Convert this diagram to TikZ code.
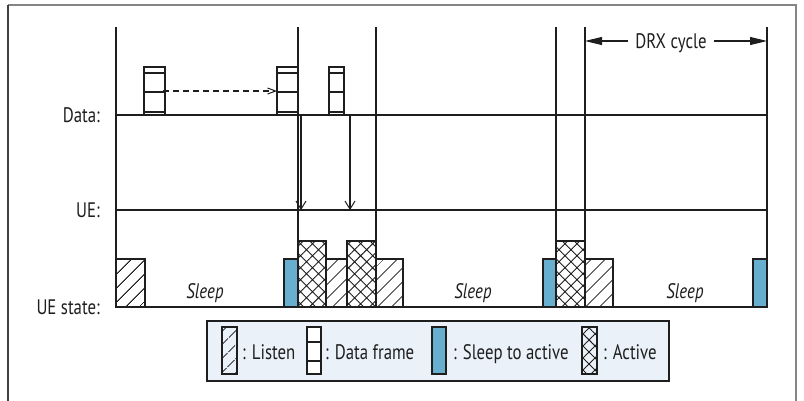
\documentclass[tikz,border=0pt]{standalone}
\usepackage{fontspec}
\setmainfont{PT Sans}[FakeStretch=0.8]
\usetikzlibrary{arrows.meta,patterns.meta}

\definecolor{ink}{HTML}{1E1E1E}
\definecolor{wake}{HTML}{68AECE}
\definecolor{legendbg}{HTML}{EAF1F8}
\definecolor{framegray}{HTML}{858585}

\tikzset{
  grid line/.style={draw=ink, line width=1.1pt},
  listenbox/.style={draw=ink, line width=1.1pt, pattern={Lines[angle=45,distance=10.5pt,line width=1pt]}, pattern color=ink},
  activebox/.style={draw=ink, line width=1.1pt, pattern={Hatch[angle=45,distance=8.5pt,line width=0.9pt]}, pattern color=ink},
  wakebox/.style={draw=ink, line width=1.1pt, fill=wake},
  framebox/.style={draw=ink, line width=1.1pt, fill=white},
  lbl/.style={font=\fontsize{21}{24}\selectfont, inner sep=0pt, text=ink},
  sleeplbl/.style={lbl, font=\fontsize{21}{24}\selectfont\itshape},
  downarrow/.style={draw=ink, line width=1.1pt, -{Straight Barb[length=8pt,width=10pt,line width=1pt]}},
  span arrow/.style={draw=ink, line width=1.1pt, -{Triangle[length=17pt,width=8pt]}},
}

% one data frame: top strip, two cells, bottom strip
\newcommand{\dataframe}[2]{%
  \draw[framebox] (#1,67) rectangle (#2,115);
  \draw[ink, line width=1.1pt] (#1,73) -- (#2,73) (#1,92) -- (#2,92) (#1,112) -- (#2,112);
}

\begin{document}
\begin{tikzpicture}[x=1pt,y=-1pt]
\useasboundingbox (0,0) rectangle (804,400);

% outer frame, open at the bottom
\draw[framegray, line width=1.3pt] (8,5) -- (796,5) -- (796,402);
\draw[black!75, line width=1.3pt] (8,5) -- (8,402);

% time instants
\foreach \n/\x in {a/116, b/298, c/376, d/556, e/585, f/767}{
  \coordinate (top\n) at (\x,27);
  \coordinate (bot\n) at (\x,307);
  \draw[grid line] (top\n) -- (bot\n);
}

% rows
\coordinate (dataL) at (116,115); \coordinate (dataR) at (767,115);
\coordinate (ueL) at (116,210);   \coordinate (ueR) at (767,210);
\draw[grid line] (dataL) -- (dataR);
\draw[grid line] (ueL) -- (ueR);
\draw[grid line] (bota) -- (botf);

\node[lbl, anchor=base east] (datalbl) at (100,122) {Data:};
\node[lbl, anchor=base east] (uelbl) at (100,217) {UE:};
\node[lbl, anchor=base east] (statelbl) at (100,314) {UE state:};

% DRX cycle span
\node[lbl, inner xsep=7pt, fill=white, anchor=base] (drx) at (671,48) {DRX cycle};
\coordinate (drxL) at (585,41); \coordinate (drxR) at (767,41);
\draw[span arrow] (drx.west |- drxL) -- (drxL);
\draw[span arrow] (drx.east |- drxR) -- (drxR);

% buffered data frames
\dataframe{144}{165}
\dataframe{277}{298}
\dataframe{329}{344}
\coordinate (bufS) at (163,91); \coordinate (bufE) at (277,91);
\draw[ink, line width=1.1pt, dash pattern=on 6pt off 4pt, -{Straight Barb[length=8pt,width=6pt,line width=1pt]}] (bufS) -- (bufE);

% delivery to the UE
\coordinate (dl1s) at (301,115); \coordinate (dl1e) at (301,210);
\coordinate (dl2s) at (350,115); \coordinate (dl2e) at (350,210);
\draw[downarrow] (dl1s) -- (dl1e);
\draw[downarrow] (dl2s) -- (dl2e);

% UE state blocks
\draw[listenbox] (116,259) rectangle (145,307);
\draw[wakebox]   (284,259) rectangle (298,307);
\draw[activebox] (298,241) rectangle (326,307);
\draw[listenbox] (326,259) rectangle (347,307);
\draw[activebox] (347,241) rectangle (376,307);
\draw[listenbox] (376,259) rectangle (403,307);
\draw[wakebox]   (543,259) rectangle (556,307);
\draw[activebox] (556,241) rectangle (585,307);
\draw[listenbox] (585,259) rectangle (613,307);
\draw[wakebox]   (753,259) rectangle (767,307);

\node[sleeplbl, anchor=base] (sleepA) at (205,298) {Sleep};
\node[sleeplbl, anchor=base] (sleepB) at (473,298) {Sleep};
\node[sleeplbl, anchor=base] (sleepC) at (685,298) {Sleep};

% legend
\draw[draw=ink, line width=1.1pt, fill=legendbg] (207,321) rectangle (669,381);
\draw[listenbox] (222,327) rectangle (237,374);
\node[lbl, anchor=base west] (keyListen) at (242,359) {: Listen};
\draw[framebox] (307,327) rectangle (321,374);
\draw[ink, line width=1.1pt] (307,342) -- (321,342) (307,361) -- (321,361);
\node[lbl, anchor=base west] (keyData) at (325,359) {: Data frame};
\draw[wakebox] (432,327) rectangle (446,374);
\node[lbl, anchor=base west] (keyWake) at (453,359) {: Sleep to active};
\draw[activebox] (582,327) rectangle (597,374);
\node[lbl, anchor=base west] (keyActive) at (603,359) {: Active};
\end{tikzpicture}
\end{document}
